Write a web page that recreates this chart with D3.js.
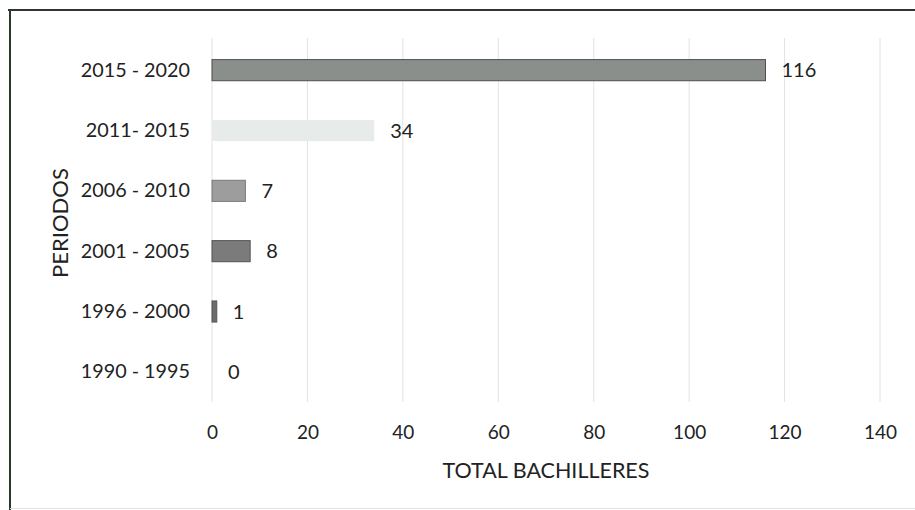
<!DOCTYPE html>
<html><head><meta charset="utf-8">
<script src="https://cdn.jsdelivr.net/npm/d3@7"></script>
<style>body{margin:0;background:#fff}svg{display:block}text{font-family:Lato,"Open Sans",sans-serif;fill:#222}</style>
</head><body><svg id="c" width="915" height="510"></svg>
<script>
const categories = ["2015 - 2020","2011- 2015","2006 - 2010","2001 - 2005","1996 - 2000","1990 - 1995"];
const values = [116, 34, 7, 8, 1, 0];
const barColors = ["#8b8f8c","#e7ecea","#9c9d9c","#7b7b7b","#6b6b6b","#6b6b6b"];
const barStrokes = ["#4e4e4e","none","#7a7a7a","#555555","#555555","none"];
const xTicks = [0,20,40,60,80,100,120,140];
const xTitle = "TOTAL BACHILLERES";
const yTitle = "PERIODOS";

const svg = d3.select("#c");
const x = d3.scaleLinear().domain([0,140]).range([212,880]);
const y = d3.scaleBand().domain(categories).range([40,402]).paddingInner(0.65).paddingOuter(0.325);

// frame
svg.append("line").attr("x1",8).attr("x2",915).attr("y1",10).attr("y2",10).attr("stroke","#333").attr("stroke-width",2);
svg.append("line").attr("x1",10).attr("x2",10).attr("y1",9).attr("y2",510).attr("stroke","#263a28").attr("stroke-width",2);
svg.append("line").attr("x1",10).attr("x2",915).attr("y1",508.5).attr("y2",508.5).attr("stroke","#e2e2e2").attr("stroke-width",1);

// gridlines
svg.append("g").selectAll("line").data(xTicks).join("line")
  .attr("x1",d=>x(d)).attr("x2",d=>x(d)).attr("y1",38).attr("y2",402)
  .attr("stroke","#e0e3e4").attr("stroke-width",1);

// bars
svg.append("g").selectAll("rect").data(values).join("rect")
  .attr("x",x(0)).attr("y",(d,i)=>y(categories[i]))
  .attr("width",d=>x(d)-x(0)).attr("height",y.bandwidth())
  .attr("fill",(d,i)=>barColors[i]).attr("stroke",(d,i)=>barStrokes[i]).attr("stroke-width",1);

// value labels
svg.append("g").selectAll("text").data(values).join("text")
  .attr("x",d=>x(d)+16).attr("y",(d,i)=>y(categories[i])+y.bandwidth()/2)
  .attr("dy","0.35em").attr("font-size",20).text(d=>d);

// y axis
const ya = svg.append("g").attr("transform",`translate(${x(0)},0)`)
  .call(d3.axisLeft(y).tickSize(0).tickPadding(22));
ya.select(".domain").remove();
ya.selectAll("text").attr("font-size",19.8).style("font-family","Lato,sans-serif").attr("fill","#222");

// x axis
const xa = svg.append("g").attr("transform","translate(0,402)")
  .call(d3.axisBottom(x).tickValues(xTicks).tickSize(0).tickPadding(24));
xa.select(".domain").remove();
xa.selectAll("text").attr("font-size",19).style("font-family","Lato,sans-serif").attr("fill","#222");

// titles
svg.append("text").attr("x",(x(0)+x(140))/2).attr("y",470).attr("dy","0.35em")
  .attr("text-anchor","middle").attr("font-size",21.5).text(xTitle);
svg.append("text").attr("transform","translate(60,223) rotate(-90)").attr("dy","0.35em")
  .attr("text-anchor","middle").attr("font-size",22).text(yTitle);
</script></body></html>
